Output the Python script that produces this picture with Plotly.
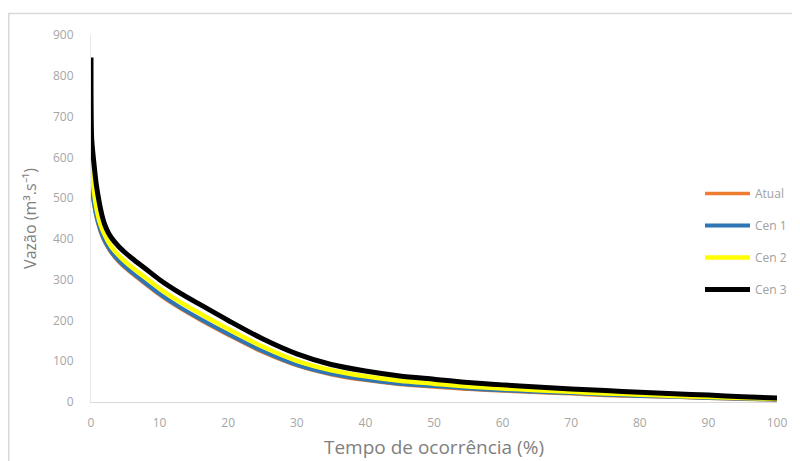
import plotly.graph_objects as go

# Data (flow-duration curves)
tempo = [0, 0.1, 0.4, 0.8, 1.2, 1.6, 2, 2.5, 3, 4, 5, 6, 8, 10, 13, 16, 20, 25,
         30, 35, 40, 45, 50, 55, 60, 65, 70, 75, 80, 85, 90, 95, 100]

cen3 = [845, 645, 590, 530, 490, 458, 435, 416, 402, 382, 366, 352, 326, 300, 267, 238,
        200, 155, 118, 92, 76, 64, 56, 48, 42, 37, 32, 28, 24, 20, 17, 13, 10]
cen2 = [630, 580, 520, 475, 445, 425, 410, 393, 380, 360, 344, 330, 304, 278, 245, 216,
        179, 136, 101, 78, 63, 52, 45, 38, 33, 29, 25, 21, 18, 15, 12, 10, 8]
cen1 = [560, 530, 490, 455, 430, 410, 395, 380, 367, 347, 331, 317, 291, 265, 232, 203,
        167, 125, 91, 69, 55, 45, 39, 33, 29, 25, 22, 18, 15, 13, 10, 8, 6]
atual = [555, 526, 486, 451, 427, 407, 392, 377, 364, 344, 328, 314, 288, 262, 229, 200,
         164, 122, 89, 67, 53, 43, 37, 31, 27, 23, 20, 16, 14, 12, 9, 7, 5]

series = [
    ("Atual", atual, "#ED7D31", 3.5),
    ("Cen 1", cen1, "#2E75B6", 4),
    ("Cen 2", cen2, "#FFFF00", 4.5),
    ("Cen 3", cen3, "#000000", 5),
]

x_ticks = [0, 10, 20, 30, 40, 50, 60, 70, 80, 90, 100]
y_ticks = [0, 100, 200, 300, 400, 500, 600, 700, 800, 900]

fig = go.Figure()
for name, vals, color, w in series:
    fig.add_trace(go.Scatter(
        x=tempo, y=vals, mode="lines", name=name,
        line=dict(color=color, width=w, shape="spline", smoothing=0.8),
        legendgroup=name,
    ))

# page is offset by the default 8px body margin
OFF = 8
W, H = 800 - OFF, 461 - OFF
ml, mt = 91 - OFF, 35 - OFF
mr = W - (777 - OFF)
mb = H - (402 - OFF)
pw, ph = W - ml - mr, H - mt - mb

def px_to_paper_x(px):
    return (px - OFF - ml) / pw

def px_to_paper_y(py):
    return (H - mb - (py - OFF)) / ph

FONT = "Open Sans, Liberation Sans, Arial, sans-serif"

fig.update_layout(
    width=W, height=H,
    margin=dict(l=ml, r=mr, t=mt, b=mb, autoexpand=False),
    paper_bgcolor="white", plot_bgcolor="white",
    font=dict(family=FONT, color="#a6a6a6", size=12),
    showlegend=True,
    legend=dict(
        x=px_to_paper_x(700), y=px_to_paper_y(179), xanchor="left", yanchor="top",
        bgcolor="rgba(0,0,0,0)", font=dict(family=FONT, size=12, color="#a0a0a0"),
        tracegroupgap=13, traceorder="grouped", itemwidth=45,
    ),
    xaxis=dict(
        range=[0, 100], tickvals=x_ticks, ticktext=[str(v) for v in x_ticks],
        showgrid=False, zeroline=False, showline=True, linecolor="#d9d9d9", linewidth=1,
        ticks="", ticklabelstandoff=10, tickfont=dict(family=FONT, size=12, color="#a6a6a6"),
        title=dict(text="Tempo de ocorrência (%)",
                   font=dict(family=FONT, size=19, color="#808080"), standoff=10),
    ),
    yaxis=dict(
        range=[0, 900], tickvals=y_ticks, ticktext=[str(v) for v in y_ticks],
        showgrid=False, zeroline=False, showline=True, linecolor="#e6e6e6", linewidth=1,
        ticks="", ticklabelstandoff=14, tickfont=dict(family=FONT, size=12, color="#a6a6a6"),
        title=dict(text="Vazão (m³.s⁻¹)",
                   font=dict(family=FONT, size=16, color="#808080"), standoff=12),
    ),
    shapes=[dict(
        type="rect", xref="paper", yref="paper",
        x0=px_to_paper_x(8.75), x1=px_to_paper_x(810),
        y0=px_to_paper_y(475), y1=px_to_paper_y(13.5),
        line=dict(color="#d9d9d9", width=1.5), fillcolor="rgba(0,0,0,0)", layer="below",
    )],
)

fig.write_html("out.html")
